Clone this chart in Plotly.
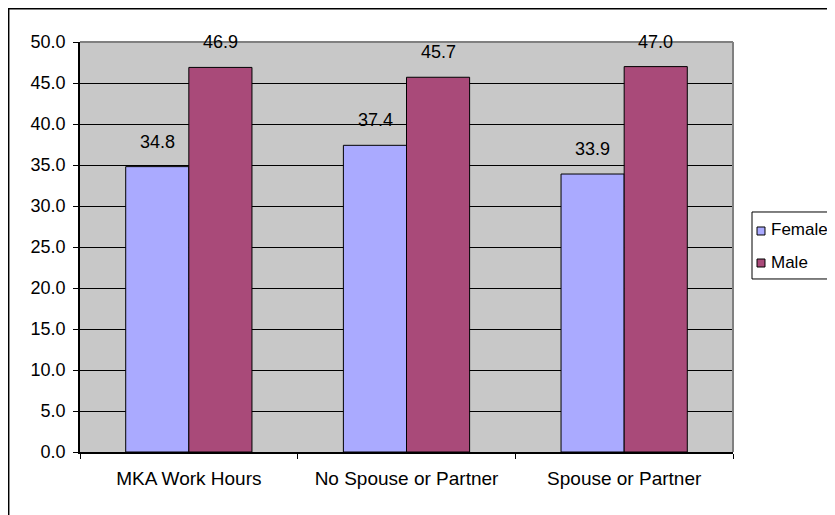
import plotly.graph_objects as go

categories = ["MKA Work Hours", "No Spouse or Partner", "Spouse or Partner"]
female = [34.8, 37.4, 33.9]
male = [46.9, 45.7, 47.0]
series_names = ["Female", "Male"]
y_ticks = [0, 5, 10, 15, 20, 25, 30, 35, 40, 45, 50]

FONT = "Liberation Sans, Arial, sans-serif"
colors = ["#AAAAFF", "#A94A79"]

fig = go.Figure()
for name, vals, col in zip(series_names, [female, male], colors):
    fig.add_trace(go.Bar(
        x=categories, y=vals, name=name, showlegend=False,
        marker=dict(color=col, line=dict(color="black", width=1)),
    ))

# value labels
for vals, shift in [(female, -31.5), (male, 31.5)]:
    for c, v in zip(categories, vals):
        fig.add_annotation(x=c, y=v, xref="x", yref="y", text=f"{v:.1f}",
                           showarrow=False, xshift=shift, yshift=25,
                           yanchor="middle", font=dict(family=FONT, size=18, color="black"))

# gray top/right border of plot area
fig.add_shape(type="line", xref="paper", yref="paper", x0=0, x1=1, y0=1, y1=1,
              line=dict(color="#808080", width=2), layer="above")
fig.add_shape(type="line", xref="paper", yref="paper", x0=1, x1=1, y0=0, y1=1,
              line=dict(color="#808080", width=2), layer="above")
# outer chart border
fig.add_shape(type="rect", xref="paper", yref="paper", x0=-0.1092, x1=1.4, y0=-0.3, y1=1.081,
              line=dict(color="black", width=1.5), layer="above")

# custom legend (box, swatches, labels)
fig.add_shape(type="rect", xref="paper", yref="paper", x0=1.0291, x1=1.3, y0=0.4220, y1=0.5854,
              line=dict(color="black", width=1), fillcolor="white", layer="above")
legend_y = [(0.5293, 0.5488, 0.5439), (0.4512, 0.4707, 0.4634)]
for name, col, (ya, yb, yt) in zip(series_names, colors, legend_y):
    fig.add_shape(type="rect", xref="paper", yref="paper", x0=1.0368, x1=1.0490, y0=ya, y1=yb,
                  line=dict(color="black", width=1), fillcolor=col, layer="above")
    fig.add_annotation(x=1.0551, y=yt, xref="paper", yref="paper", text=name, showarrow=False,
                       xanchor="left", yanchor="middle", font=dict(family=FONT, size=17, color="black"))

fig.update_layout(
    width=835, height=515,
    margin=dict(l=72, r=110, t=34, b=71, autoexpand=False),
    plot_bgcolor="#C8C8C8", paper_bgcolor="white",
    barmode="group", bargap=0.42, bargroupgap=0,
    font=dict(family=FONT, size=18, color="black"),
    showlegend=False,
)
fig.update_xaxes(showline=True, linecolor="black", linewidth=1.5, ticks="outside",
                 tickson="boundaries", ticklen=5, tickcolor="black", showgrid=False,
                 ticklabelstandoff=8, tickfont=dict(size=19))
fig.update_yaxes(range=[0, 50], tickvals=y_ticks, ticktext=[f"{t:.1f}" for t in y_ticks],
                 showline=True, linecolor="black", linewidth=1.5, ticks="outside",
                 ticklen=5, tickcolor="black", showgrid=True, gridcolor="black",
                 gridwidth=1, zeroline=False, ticklabelstandoff=4)

fig.write_html("out.html")
